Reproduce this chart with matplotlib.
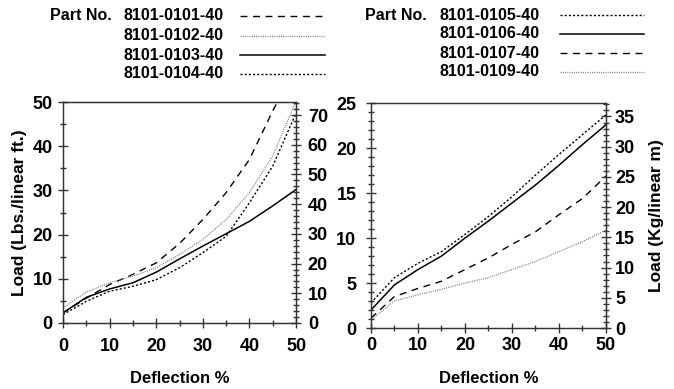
import numpy as np
import matplotlib.pyplot as plt
from matplotlib.lines import Line2D
from matplotlib.ticker import MultipleLocator

plt.rcParams['font.family'] = ['Liberation Sans', 'DejaVu Sans']
plt.rcParams['font.weight'] = 'bold'

KG_PER_LB_FT = 1.488  # lbs/linear ft -> kg/linear m

deflection = [0, 5, 10, 15, 20, 25, 30, 35, 40, 45, 50]

# left panel (Lbs./linear ft.)
left_parts = ["8101-0101-40", "8101-0102-40", "8101-0103-40", "8101-0104-40"]
load_0101 = [2.3, 5.6, 8.7, 11.0, 13.6, 18.0, 23.4, 29.5, 37.0, 48.0, 58.0]
load_0102 = [3.4, 7.0, 9.1, 10.6, 12.5, 15.5, 18.9, 23.4, 29.5, 37.8, 50.2]
load_0103 = [2.3, 5.8, 7.7, 9.1, 11.5, 14.5, 17.4, 20.2, 23.0, 26.5, 30.2]
load_0104 = [1.9, 4.9, 7.2, 8.3, 9.8, 12.5, 15.9, 19.6, 27.2, 35.5, 47.5]

# right panel
right_parts = ["8101-0105-40", "8101-0106-40", "8101-0107-40", "8101-0109-40"]
load_0105 = [2.8, 5.6, 7.2, 8.5, 10.4, 12.4, 14.6, 17.0, 19.3, 21.5, 23.7]
load_0106 = [2.0, 4.8, 6.5, 8.0, 10.0, 11.9, 13.9, 15.9, 18.1, 20.4, 22.6]
load_0107 = [1.1, 3.5, 4.4, 5.2, 6.5, 7.8, 9.3, 10.7, 12.6, 14.4, 16.9]
load_0109 = [0.9, 3.0, 3.7, 4.3, 5.0, 5.6, 6.5, 7.4, 8.5, 9.6, 10.9]

STYLES = {
    "dash": dict(color="black", lw=1.0, ls=(0, (5, 4))),
    "fine": dict(color="#777777", lw=0.9, ls=(0, (0.8, 1.0))),
    "solid": dict(color="black", lw=1.1, ls="-"),
    "dot": dict(color="black", lw=1.0, ls=(0, (1.5, 1.5))),
}

left_series = [(load_0101, "dash"), (load_0102, "fine"), (load_0103, "solid"), (load_0104, "dot")]
right_series = [(load_0105, "dot"), (load_0106, "solid"), (load_0107, "dash"), (load_0109, "fine")]

fig = plt.figure(figsize=(6.74, 3.89), dpi=100)
SPINE = "#333333"
TICK_FS = 13


def style_axis(ax, ymax, ymajor, yminor, xpad, ypad):
    ax.set_xlim(0, 50)
    ax.set_ylim(0, ymax)
    ax.xaxis.set_major_locator(MultipleLocator(10))
    ax.xaxis.set_minor_locator(MultipleLocator(5))
    ax.yaxis.set_major_locator(MultipleLocator(ymajor))
    ax.yaxis.set_minor_locator(MultipleLocator(yminor))
    ax.tick_params(which="major", direction="inout", length=7, width=1, color=SPINE,
                   labelsize=TICK_FS)
    ax.tick_params(which="minor", direction="inout", length=4, width=1, color=SPINE)
    ax.tick_params(axis="x", which="major", pad=xpad)
    ax.tick_params(axis="y", which="major", pad=ypad)
    for s in ax.spines.values():
        s.set_color(SPINE)
        s.set_linewidth(1.0)
    for lab in ax.get_xticklabels() + ax.get_yticklabels():
        lab.set_fontweight("bold")


def twin_kg(ax, ymax_lb, major, minor, pad):
    ax2 = ax.twinx()
    ax2.set_ylim(0, ymax_lb * KG_PER_LB_FT)
    ax2.yaxis.set_major_locator(MultipleLocator(major))
    ax2.yaxis.set_minor_locator(MultipleLocator(minor))
    ax2.tick_params(which="major", direction="inout", length=7, width=1, color=SPINE,
                    labelsize=TICK_FS, pad=pad)
    ax2.tick_params(which="minor", direction="inout", length=4, width=1, color=SPINE)
    for s in ax2.spines.values():
        s.set_color(SPINE)
    for lab in ax2.get_yticklabels():
        lab.set_fontweight("bold")
    return ax2


# left panel
axL = fig.add_axes([0.0935, 0.1697, 0.3457, 0.568])
for vals, st in left_series:
    axL.plot(deflection, vals, **STYLES[st], clip_on=True)
style_axis(axL, 50, 10, 5, xpad=7, ypad=4)
axL.set_xlabel("Deflection %", fontsize=12, fontweight="bold", labelpad=12)
axL.set_ylabel("Load (Lbs./linear ft.)", fontsize=12.5, fontweight="bold", labelpad=4)
twin_kg(axL, 50, 10, 2, pad=5)

# right panel
axR = fig.add_axes([0.5504, 0.1568, 0.3487, 0.578])
for vals, st in right_series:
    axR.plot(deflection, vals, **STYLES[st])
style_axis(axR, 25, 5, 1, xpad=3, ypad=7)
axR.set_xlabel("Deflection %", fontsize=12, fontweight="bold", labelpad=12)
axR2 = twin_kg(axR, 25, 5, 1, pad=3)
axR2.set_ylabel("Load (Kg/linear m)", fontsize=12.5, fontweight="bold", labelpad=10)

# legends drawn as figure text + sample lines
W, H = 674, 389


def legend_block(x_head, x_name, x_line0, x_line1, y_rows, parts, series):
    fig.text(x_head / W, 1 - y_rows[0] / H, "Part No.", fontsize=11.5, fontweight="bold",
             va="center", ha="left")
    for y, name, (vals, st) in zip(y_rows, parts, series):
        fig.text(x_name / W, 1 - y / H, name, fontsize=11.5, fontweight="bold",
                 va="center", ha="left")
        fig.add_artist(Line2D([x_line0 / W, x_line1 / W], [1 - y / H, 1 - y / H],
                              transform=fig.transFigure, **STYLES[st]))


legend_block(50, 124, 240, 325, [16, 36, 55, 74], left_parts, left_series)
legend_block(365, 439, 560, 644, [15, 34, 53, 72], right_parts, right_series)

fig.savefig("out.png", dpi=100)
